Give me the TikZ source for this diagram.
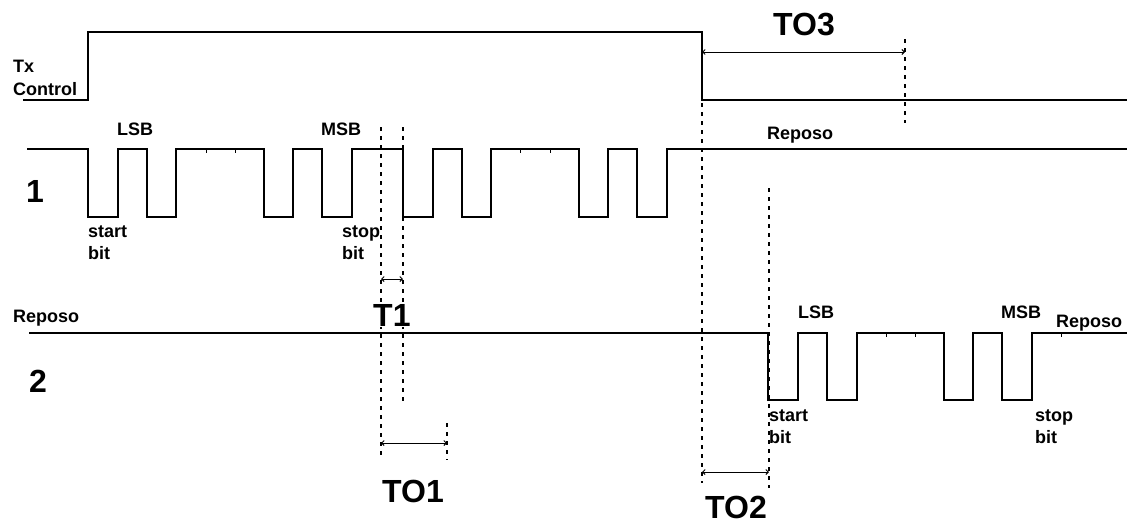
\documentclass[tikz,border=0pt]{standalone}
\usepackage{fontspec}
\setmainfont{Liberation Sans}
\usetikzlibrary{arrows.meta}
\tikzset{
  wave/.style={line width=1.4pt, line join=miter},
  guide/.style={line width=1.3pt, dash pattern=on 4pt off 5pt},
  dim/.style={line width=1pt, {Straight Barb[length=2.5pt,width=5pt]}-{Straight Barb[length=2.5pt,width=5pt]}},
  tick/.style={line width=1pt},
  small/.style={inner sep=0pt, anchor=base west, font=\fontsize{18}{18}\selectfont\bfseries},
  big/.style={inner sep=0pt, anchor=base west, font=\fontsize{32}{32}\selectfont\bfseries},
}
\begin{document}
\begin{tikzpicture}[x=1pt,y=-1pt]
\useasboundingbox (0,0) rectangle (1127,523);
% Tx control
\draw[wave] (23,100) -- (88,100) -- (88,32) -- (702,32) -- (702,100) -- (1127,100);
% line 1
\draw[wave] (27,149) -- (88,149) -- (88,217) -- (118,217) -- (118,149) -- (147,149) -- (147,217) -- (176,217) -- (176,149) -- (264,149) -- (264,217) -- (293,217) -- (293,149) -- (322,149) -- (322,217) -- (352,217) -- (352,149) -- (403,149) -- (403,217) -- (433,217) -- (433,149) -- (462,149) -- (462,217) -- (491,217) -- (491,149) -- (579,149) -- (579,217) -- (608,217) -- (608,149) -- (637,149) -- (637,217) -- (667,217) -- (667,149) -- (1127,149);
\foreach \x in {206,235,520,550} \draw[tick] (\x,149) -- (\x,153);
% line 2
\draw[wave] (29,333) -- (768,333) -- (768,400) -- (798,400) -- (798,333) -- (827,333) -- (827,400) -- (857,400) -- (857,333) -- (944,333) -- (944,400) -- (973,400) -- (973,333) -- (1002,333) -- (1002,400) -- (1032,400) -- (1032,333) -- (1127,333);
\foreach \x in {886,915,1061} \draw[tick] (\x,333) -- (\x,337);
% guides
\draw[guide] (381,127) -- (381,457);
\draw[guide] (403,127) -- (403,402);
\draw[guide] (447,423) -- (447,460);
\draw[guide] (702,103) -- (702,483);
\draw[guide] (769,188) -- (769,488);
\draw[guide] (905,39) -- (905,123);
% dimension coordinates
\coordinate (t1a) at (381,279); \coordinate (t1b) at (403,279);
\coordinate (to1a) at (381,443); \coordinate (to1b) at (447,443);
\coordinate (to2a) at (702,472); \coordinate (to2b) at (769,472);
\coordinate (to3a) at (702,52); \coordinate (to3b) at (905,52);
\draw[dim] (t1a) -- (t1b);
\draw[dim] (to1a) -- (to1b);
\draw[dim] (to2a) -- (to2b);
\draw[dim] (to3a) -- (to3b);
% labels
\node[small] (tx) at (13,72) {Tx};
\node[small] (ctl) at (13,95) {Control};
\node[small] (lsb1) at (117,135) {LSB};
\node[small] (msb1) at (321,135) {MSB};
\node[small] (st1) at (88,237) {start};
\node[small] (sb1) at (88,259) {bit};
\node[small] (sp1) at (342,237) {stop};
\node[small] (spb1) at (342,259) {bit};
\node[small] (rep1) at (767,139) {Reposo};
\node[small] (rep2) at (13,322) {Reposo};
\node[small] (lsb2) at (798,318) {LSB};
\node[small] (msb2) at (1001,318) {MSB};
\node[small] (rep3) at (1056,327) {Reposo};
\node[small] (st2) at (769,421) {start};
\node[small] (sb2) at (769,443) {bit};
\node[small] (sp2) at (1035,421) {stop};
\node[small] (spb2) at (1035,443) {bit};
\node[big] (n1) at (26,202) {1};
\node[big] (n2) at (29,392) {2};
\node[big, fill=white, inner sep=1pt] (t1) at (372,326) {T1};
\node[big] (to1) at (382,502) {TO1};
\node[big] (to2) at (705,518) {TO2};
\node[big] (to3) at (773,35) {TO3};
\end{tikzpicture}
\end{document}
